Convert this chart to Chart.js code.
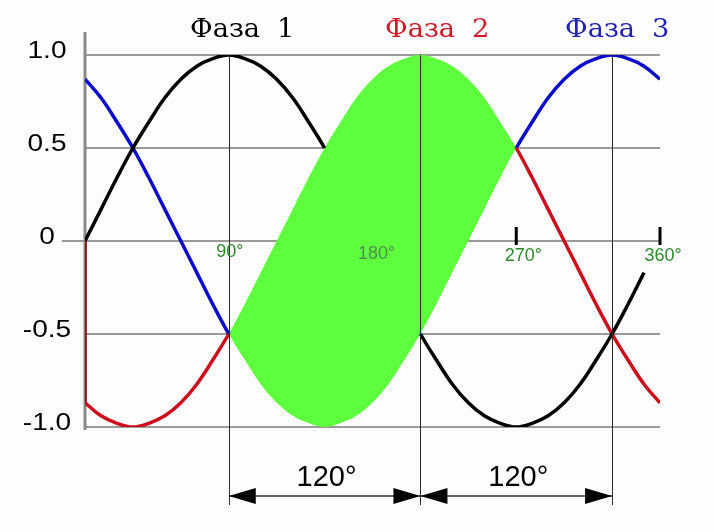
<!DOCTYPE html>
<html>
<head>
<meta charset="utf-8">
<script src="https://cdn.jsdelivr.net/npm/chart.js@4.4.1/dist/chart.umd.min.js"></script>
<style>
body { margin: 0; background: #fdfdfd; }
#wrap { width: 714px; height: 532px; }
</style>
</head>
<body>
<div id="wrap"><canvas id="chart" width="714" height="532"></canvas></div>
<script>
// phase angle, degrees
const angles = [0, 10, 20, 30, 40, 50, 60, 70, 80, 90, 100, 110, 120, 130, 140, 150, 160, 170, 180,
    190, 200, 210, 220, 230, 240, 250, 260, 270, 280, 290, 300, 310, 320, 330, 340, 350, 360];
// (black, red, blue)
const phase1 = [0, 0.17, 0.34, 0.5, 0.64, 0.77, 0.87, 0.94, 0.98, 1, 0.98, 0.94, 0.87, 0.77, 0.64, 0.5, 0.34, 0.17, 0,
    -0.17, -0.34, -0.5, -0.64, -0.77, -0.87, -0.94, -0.98, -1, -0.98, -0.94, -0.87, -0.77, -0.64, -0.5, -0.34, -0.17, null];
const phase2 = [-0.87, -0.94, -0.98, -1, -0.98, -0.94, -0.87, -0.77, -0.64, -0.5, -0.34, -0.17, 0, 0.17, 0.34, 0.5, 0.64, 0.77, 0.87,
    0.94, 0.98, 1, 0.98, 0.94, 0.87, 0.77, 0.64, 0.5, 0.34, 0.17, 0, -0.17, -0.34, -0.5, -0.64, -0.77, -0.87];
const phase3 = [0.87, 0.77, 0.64, 0.5, 0.34, 0.17, 0, -0.17, -0.34, -0.5, -0.64, -0.77, -0.87, -0.94, -0.98, -1, -0.98, -0.94, -0.87,
    -0.77, -0.64, -0.5, -0.34, -0.17, 0, 0.17, 0.34, 0.5, 0.64, 0.77, 0.87, 0.94, 0.98, 1, 0.98, 0.94, 0.87];

const yTicks = [1, 0.5, 0, -0.5, -1];
const yTickLabels = ["1.0", "0.5", "0", "-0.5", "-1.0"];
const degTicks = [90, 180, 270, 360];
const degLabels = ["90°", "180°", "270°", "360°"];
const markers = [90, 210, 330];
const spanLabel = "120°";
const phaseNames = ["Фаза 1", "Фаза 2", "Фаза 3"];

const BLACK = "#000000", RED = "#cc0e1c", BLUE = "#0b0bcc", GREEN = "#5eff3c";
const NONE = "rgba(0,0,0,0)";

function pts(vals) {
    return angles.map((a, i) => ({ x: a, y: vals[i] }));
}
function hideBetween(from, to, color) {
    return c => (angles[c.p0DataIndex] >= from && angles[c.p1DataIndex] <= to) ? NONE : color;
}

function stretchText(ctx, text, x, y, sx) {
    ctx.save();
    ctx.translate(x, y);
    ctx.scale(sx, 1);
    ctx.fillText(text, 0, 0);
    ctx.restore();
}

const overlay = {
    id: "overlay",
    beforeDatasetsDraw(chart) {
        const { ctx, chartArea: a, scales: { x, y } } = chart;
        ctx.save();
        ctx.strokeStyle = "#9a9a9a";
        ctx.lineWidth = 2;
        yTicks.forEach(v => {
            let py = y.getPixelForValue(v);
            ctx.beginPath();
            ctx.moveTo(v === 0 ? a.left - 23 : a.left, py);
            ctx.lineTo(a.right, py);
            ctx.stroke();
        });
        ctx.strokeStyle = "#8a8a8a";
        ctx.lineWidth = 3;
        ctx.beginPath();
        ctx.moveTo(a.left, a.top - 23);
        ctx.lineTo(a.left, a.bottom + 3);
        ctx.stroke();
        ctx.restore();
    },
    afterDatasetsDraw(chart) {
        const { ctx, chartArea: a, scales: { x, y } } = chart;
        const y0 = y.getPixelForValue(0);
        ctx.save();

        // vertical marker lines
        ctx.strokeStyle = "#2a2a2a";
        ctx.lineWidth = 1;
        markers.forEach(m => {
            let px = Math.round(x.getPixelForValue(m)) + 0.5;
            ctx.beginPath();
            ctx.moveTo(px, y.getPixelForValue(1));
            ctx.lineTo(px, a.bottom + 78);
            ctx.stroke();
        });

        // small ticks at 270 and 360
        ctx.strokeStyle = "#000";
        ctx.lineWidth = 3;
        [270, 360].forEach(d => {
            let px = x.getPixelForValue(d);
            ctx.beginPath();
            ctx.moveTo(px, y0 - 14);
            ctx.lineTo(px, y0 + 4);
            ctx.stroke();
        });

        // degree labels
        const dx = [1, 4, 7, 3], dy = [11, 13, 15, 15];
        ctx.font = "18px 'Liberation Sans', Arial, sans-serif";
        ctx.textAlign = "center";
        ctx.textBaseline = "middle";
        degTicks.forEach((d, i) => {
            ctx.fillStyle = d === 180 ? "#4f8f4f" : "#2a8a2a";
            ctx.fillText(degLabels[i], x.getPixelForValue(d) + dx[i], y0 + dy[i]);
        });

        // y labels
        ctx.fillStyle = "#000";
        ctx.font = "23px 'Liberation Sans', Arial, sans-serif";
        yTicks.forEach((v, i) => {
            stretchText(ctx, yTickLabels[i], 47, y.getPixelForValue(v) - 3, 1.22);
        });

        // phase titles: word and number with a wide gap
        const cols = [BLACK, "#d01a28", "#2222b4"];
        const left = [190, 385, 565];
        ctx.font = "26px 'DejaVu Serif', serif";
        ctx.textBaseline = "alphabetic";
        ctx.textAlign = "left";
        phaseNames.forEach((t, i) => {
            let parts = t.split(" ");
            ctx.fillStyle = cols[i];
            let w = ctx.measureText(parts[0]).width * 1.05;
            stretchText(ctx, parts[0], left[i], 37, 1.05);
            stretchText(ctx, parts[1], left[i] + w + 17, 37, 1.05);
        });

        // 120 degree spans with arrows
        const ay = a.bottom + 69;
        ctx.strokeStyle = "#333";
        ctx.lineWidth = 1.5;
        ctx.beginPath();
        ctx.moveTo(x.getPixelForValue(markers[0]), ay);
        ctx.lineTo(x.getPixelForValue(markers[2]), ay);
        ctx.stroke();
        ctx.fillStyle = "#000";
        const head = (tip, dir) => {
            ctx.beginPath();
            ctx.moveTo(tip, ay);
            ctx.lineTo(tip + dir * 27, ay - 8);
            ctx.lineTo(tip + dir * 27, ay + 8);
            ctx.closePath();
            ctx.fill();
        };
        ctx.font = "29px 'Liberation Sans', Arial, sans-serif";
        ctx.textAlign = "center";
        for (let k = 0; k < 2; k++) {
            let l = x.getPixelForValue(markers[k]), r = x.getPixelForValue(markers[k + 1]);
            head(l, 1);
            head(r, -1);
            ctx.fillText(spanLabel, (l + r) / 2 + 2, a.bottom + 59);
        }
        ctx.restore();
    }
};

new Chart(document.getElementById("chart"), {
    type: "line",
    data: {
        datasets: [
            {
                data: [{ x: angles[0], y: 0 }, { x: angles[0], y: phase2[0] }],
                borderColor: "#8c0b0b", borderWidth: 3.5, tension: 0
            },
            {
                data: pts(phase1), borderColor: BLACK, borderWidth: 3.5, tension: 0.4,
                segment: { borderColor: hideBetween(150, 210, BLACK) }
            },
            {
                data: pts(phase2), borderColor: RED, borderWidth: 3.5, tension: 0.4,
                segment: { borderColor: hideBetween(90, 270, RED) }
            },
            {
                data: pts(phase3), borderColor: BLUE, borderWidth: 3.5, tension: 0.4,
                segment: { borderColor: hideBetween(90, 270, BLUE) }
            },
            { data: pts(phase3), borderWidth: 0, borderColor: NONE, tension: 0.4, fill: false },
            {
                data: pts(phase2), borderWidth: 0, borderColor: NONE, tension: 0.4,
                fill: { target: 4, above: GREEN, below: NONE }
            }
        ]
    },
    options: {
        responsive: false,
        animation: false,
        layout: { padding: { left: 85, right: 54, top: 55, bottom: 105 } },
        scales: {
            x: { type: "linear", min: 0, max: 360, display: false },
            y: { min: -1, max: 1, display: false }
        },
        elements: { point: { radius: 0 } },
        plugins: { legend: { display: false }, tooltip: { enabled: false } }
    },
    plugins: [overlay]
});
</script>
</body>
</html>
